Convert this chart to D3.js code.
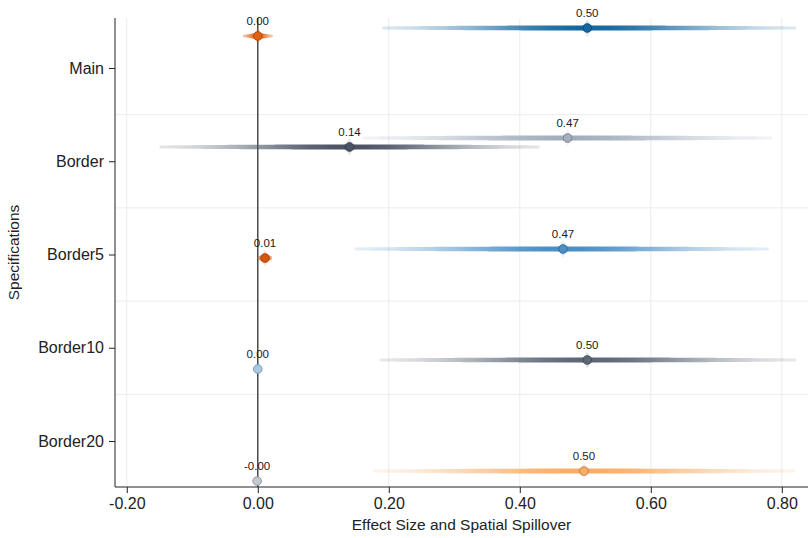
<!DOCTYPE html>
<html>
<head>
<meta charset="utf-8">
<script src="https://cdn.jsdelivr.net/npm/d3@7"></script>
<style>
  html, body { margin: 0; padding: 0; background: #fff; }
  svg { display: block; font-family: "Liberation Sans", Arial, Helvetica, sans-serif; }
</style>
</head>
<body>
<svg id="chart" width="808" height="538"></svg>
<script>
// ---------- data ----------
const categories = ["Main", "Border", "Border5", "Border10", "Border20"];
const categoryPos = [1, 2, 3, 4, 5];

// effect estimates (lower mark in each row)
const effectValue = [0.000, 0.140, 0.011, 0.000, -0.001];
const effectLo    = [-0.023, -0.150, 0.000, -0.002, -0.003];
const effectHi    = [0.023, 0.430, 0.022, 0.002, 0.001];
const effectPos   = [0.657, 1.847, 3.038, 4.228, 5.429];

// spatial spillover estimates (upper mark in each row)
const spillValue = [0.503, 0.473, 0.466, 0.503, 0.498];
const spillLo    = [0.190, 0.160, 0.148, 0.186, 0.177];
const spillHi    = [0.822, 0.785, 0.780, 0.822, 0.820];
const spillPos   = [0.571, 1.751, 2.941, 4.131, 5.322];

const xTicks = [-0.2, 0, 0.2, 0.4, 0.6, 0.8];
const gridY  = [1.5, 2.5, 3.5, 4.5];

const effectColor = ["#e2620f", "#4b5466", "#d6580e", "#a6c9e6", "#c3c8d1"];
const spillColor  = ["#16679f", "#a4aebd", "#4b8fc6", "#5d6778", "#fbac66"];

(function () {
// ---------- layout ----------
const svg = d3.select("#chart");
const mLeft = 115, mRight = 808, mTop = 18, mBottom = 487;

const x = d3.scaleLinear().domain([-0.218, 0.840]).range([mLeft, mRight]);
const y = d3.scaleLinear().domain([0.464, 5.493]).range([mTop, mBottom]);

const defs = svg.append("defs");
const clip = defs.append("clipPath").attr("id", "plotclip");
clip.append("rect").attr("x", mLeft).attr("y", mTop - 10).attr("width", mRight - mLeft).attr("height", mBottom - mTop + 10);

// grid
const grid = svg.append("g");
grid.selectAll("line.vx").data(xTicks).join("line")
  .attr("x1", d => x(d)).attr("x2", d => x(d))
  .attr("y1", mTop).attr("y2", mBottom)
  .attr("stroke", "#ececec").attr("stroke-width", 1);
grid.selectAll("line.hy").data(gridY).join("line")
  .attr("x1", mLeft).attr("x2", mRight)
  .attr("y1", d => y(d)).attr("y2", d => y(d))
  .attr("stroke", "#ececec").attr("stroke-width", 1);

// zero reference line
svg.append("line")
  .attr("x1", x(0)).attr("x2", x(0)).attr("y1", mTop).attr("y2", mBottom)
  .attr("stroke", "#333").attr("stroke-width", 1.3);

// ---------- estimate marks ----------
const marks = [];
categories.forEach((c, i) => {
  marks.push({ id: "s" + i, v: spillValue[i], lo: spillLo[i], hi: spillHi[i], pos: spillPos[i], color: spillColor[i] });
  marks.push({ id: "e" + i, v: effectValue[i], lo: effectLo[i], hi: effectHi[i], pos: effectPos[i], color: effectColor[i] });
});

const plot = svg.append("g").attr("clip-path", "url(#plotclip)");

marks.forEach(m => {
  const x0 = x(m.lo), x1 = x(m.hi), xc = x(m.v), yc = y(m.pos);
  const span = x1 - x0;
  if (span > 3) {
    const g = defs.append("linearGradient").attr("id", "g" + m.id)
      .attr("gradientUnits", "userSpaceOnUse")
      .attr("x1", x0).attr("x2", x1).attr("y1", 0).attr("y2", 0);
    const cFrac = (xc - x0) / span;
    d3.range(0, 1.0001, 0.05).forEach(t => {
      const d = t < cFrac ? (cFrac - t) / cFrac : (t - cFrac) / (1 - cFrac);
      const op = 0.07 + 0.93 * Math.exp(-0.5 * Math.pow(d / 0.45, 2));
      g.append("stop").attr("offset", t).attr("stop-color", m.color).attr("stop-opacity", op);
    });
    const n = 80;
    const pts = d3.range(n + 1).map(k => x0 + span * k / n);
    pts.push(xc); pts.sort((a, b) => a - b);
    const halfH = px => {
      const d = Math.abs(px - xc) / (span / 2);
      return 1.5 + 1.0 * Math.max(0, 1 - d * d);
    };
    const area = d3.area().x(p => p).y0(p => yc - halfH(p)).y1(p => yc + halfH(p)).curve(d3.curveBasis);
    plot.append("path").attr("d", area(pts)).attr("fill", "url(#g" + m.id + ")");

    // soft vertical glow around the point
    const sw = Math.min(22, span / 2);
    const spts = d3.range(-sw, sw + 0.01, 0.5).map(dx => xc + dx);
    const spike = px => 9 * Math.exp(-Math.abs(px - xc) / 4);
    const sarea = d3.area().x(p => p).y0(p => yc - spike(p)).y1(p => yc + spike(p)).curve(d3.curveBasis);
    plot.append("path").attr("d", sarea(spts)).attr("fill", m.color).attr("opacity", 0.16);
    const spike2 = px => 5 * Math.exp(-Math.abs(px - xc) / 7);
    const sarea2 = d3.area().x(p => p).y0(p => yc - spike2(p)).y1(p => yc + spike2(p)).curve(d3.curveBasis);
    plot.append("path").attr("d", sarea2(spts)).attr("fill", m.color).attr("opacity", 0.22);
  }
  plot.append("circle").attr("cx", xc).attr("cy", yc).attr("r", 4.3)
    .attr("fill", m.color)
    .attr("stroke", d3.color(m.color).darker(0.9)).attr("stroke-width", 0.9);
  svg.append("text").attr("x", xc).attr("y", yc - 11)
    .attr("text-anchor", "middle").attr("font-size", 11.5).attr("fill", "#1a1a1a")
    .text(m.v.toFixed(2));
});

// ---------- axes ----------
const xAxis = svg.append("g").attr("transform", `translate(0,${mBottom})`)
  .call(d3.axisBottom(x).tickValues(xTicks).tickSize(6).tickPadding(5).tickSizeOuter(0));
xAxis.select(".domain").attr("stroke", "#222").attr("d", `M${mLeft},0H${mRight}`);
xAxis.selectAll(".tick line").attr("stroke", "#222");
xAxis.selectAll(".tick text").attr("font-size", 16).attr("fill", "#222")
  .attr("font-family", "Liberation Sans, Arial, sans-serif")
  .text(d => d < 0 ? "-" + Math.abs(d).toFixed(2) : d.toFixed(2));

const yAxis = svg.append("g").attr("transform", `translate(${mLeft},0)`)
  .call(d3.axisLeft(y).tickValues(categoryPos).tickFormat((d, i) => categories[i]).tickSize(6).tickPadding(5).tickSizeOuter(0));
yAxis.select(".domain").attr("stroke", "#222").attr("d", `M0,${mTop}V${mBottom}`);
yAxis.selectAll(".tick line").attr("stroke", "#222");
yAxis.selectAll(".tick text").attr("font-size", 16).attr("fill", "#222")
  .attr("font-family", "Liberation Sans, Arial, sans-serif");

svg.append("text").attr("x", (mLeft + mRight) / 2).attr("y", 530)
  .attr("text-anchor", "middle").attr("font-size", 15.5).attr("fill", "#222")
  .text("Effect Size and Spatial Spillover");
svg.append("text").attr("transform", `translate(19,${(mTop + mBottom) / 2}) rotate(-90)`)
  .attr("text-anchor", "middle").attr("font-size", 15.5).attr("fill", "#222")
  .text("Specifications");
})();
</script>
</body>
</html>
